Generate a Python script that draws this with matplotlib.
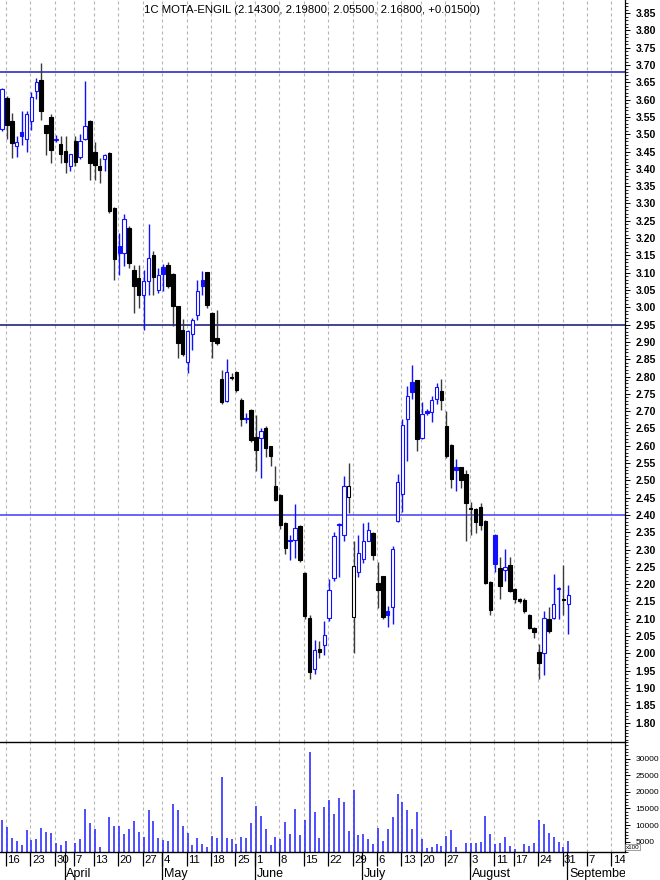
import matplotlib
matplotlib.use('Agg')
import matplotlib.pyplot as plt
from matplotlib.ticker import FixedLocator, MultipleLocator, FormatStrFormatter
import numpy as np
import pandas as pd

plt.rcParams['font.family'] = ['Liberation Sans', 'DejaVu Sans']

title = '1C MOTA-ENGIL (2.14300, 2.19800, 2.05500, 2.16800, +0.01500)'

# trading days (exchange holidays and days missing from the feed removed)
holidays = ['2015-04-03', '2015-04-06', '2015-05-01']
missing = ['2015-05-28', '2015-07-16', '2015-08-10']
dates = pd.bdate_range('2015-03-13', '2015-09-01').drop(pd.to_datetime(holidays + missing))

opens = [3.515, 3.606, 3.537, 3.467, 3.506, 3.487, 3.539, 3.624, 3.657, 3.527,
         3.551, 3.484, 3.473, 3.453, 3.409, 3.481, 3.434, 3.486, 3.539, 3.449,
         3.407, 3.428, 3.447, 3.287, 3.176, 3.157, 3.229, 3.109, 3.085, 3.037,
         3.075, 3.152, 3.049, 3.117, 3.123, 3.096, 3.003, 2.935, 2.842, 2.924,
         2.979, 3.078, 3.101, 2.984, 2.911, 2.793, 2.728, 2.800, 2.812, 2.733,
         2.680, 2.704, 2.626, 2.623, 2.651, 2.598, 2.485, 2.459, 2.378, 2.328,
         2.329, 2.368, 2.231, 2.102, 1.954, 2.013, 2.023, 2.102, 2.218, 2.374,
         2.343, 2.453, 2.106, 2.235, 2.273, 2.326, 2.347, 2.203, 2.223, 2.122,
         2.135, 2.382, 2.461, 2.676, 2.783, 2.789, 2.622, 2.701, 2.697, 2.735,
         2.757, 2.656, 2.603, 2.539, 2.539, 2.519, 2.420, 2.418, 2.424, 2.384,
         2.206, 2.343, 2.247, 2.241, 2.254, 2.187, 2.156, 2.154, 2.112, 2.074,
         2.004, 2.002, 2.098, 2.103, 2.185, 2.158, 2.143]
highs = [3.635, 3.610, 3.561, 3.496, 3.566, 3.566, 3.621, 3.662, 3.707, 3.527,
         3.559, 3.497, 3.496, 3.494, 3.443, 3.496, 3.502, 3.654, 3.542, 3.478,
         3.431, 3.443, 3.450, 3.290, 3.215, 3.270, 3.235, 3.123, 3.123, 3.109,
         3.242, 3.162, 3.115, 3.126, 3.130, 3.100, 3.005, 2.966, 2.935, 2.969,
         3.080, 3.104, 3.103, 2.986, 2.993, 2.820, 2.851, 2.810, 2.815, 2.738,
         2.695, 2.706, 2.690, 2.651, 2.657, 2.600, 2.542, 2.460, 2.380, 2.343,
         2.433, 2.370, 2.235, 2.110, 2.040, 2.035, 2.095, 2.216, 2.351, 2.376,
         2.514, 2.550, 2.324, 2.343, 2.378, 2.380, 2.350, 2.263, 2.225, 2.137,
         2.310, 2.517, 2.676, 2.772, 2.834, 2.790, 2.726, 2.705, 2.744, 2.780,
         2.793, 2.699, 2.605, 2.562, 2.540, 2.530, 2.437, 2.420, 2.436, 2.386,
         2.210, 2.345, 2.279, 2.303, 2.280, 2.190, 2.160, 2.160, 2.115, 2.076,
         2.026, 2.122, 2.133, 2.228, 2.193, 2.254, 2.198]
lows = [3.510, 3.487, 3.431, 3.434, 3.470, 3.450, 3.511, 3.602, 3.542, 3.441,
        3.417, 3.478, 3.417, 3.388, 3.395, 3.407, 3.428, 3.484, 3.369, 3.369,
        3.359, 3.393, 3.272, 3.080, 3.094, 3.118, 3.114, 2.985, 2.998, 2.935,
        3.037, 3.037, 3.042, 3.046, 3.055, 2.945, 2.854, 2.860, 2.810, 2.878,
        2.964, 3.037, 2.998, 2.854, 2.890, 2.720, 2.725, 2.790, 2.755, 2.656,
        2.666, 2.610, 2.526, 2.507, 2.568, 2.542, 2.440, 2.360, 2.286, 2.271,
        2.276, 2.265, 2.100, 1.925, 1.940, 1.987, 1.994, 2.095, 2.210, 2.220,
        2.326, 2.405, 2.002, 2.221, 2.260, 2.326, 2.271, 2.132, 2.100, 2.077,
        2.086, 2.379, 2.410, 2.555, 2.735, 2.586, 2.620, 2.690, 2.669, 2.720,
        2.704, 2.565, 2.478, 2.468, 2.478, 2.326, 2.343, 2.347, 2.358, 2.200,
        2.110, 2.235, 2.156, 2.208, 2.178, 2.147, 2.145, 2.118, 2.070, 2.045,
        1.925, 1.939, 2.060, 2.100, 2.100, 2.112, 2.055]
closes = [3.630, 3.527, 3.475, 3.477, 3.494, 3.558, 3.609, 3.651, 3.566, 3.505,
          3.455, 3.486, 3.444, 3.419, 3.443, 3.421, 3.481, 3.525, 3.417, 3.412,
          3.397, 3.441, 3.277, 3.140, 3.157, 3.256, 3.128, 3.061, 3.037, 3.075,
          3.142, 3.089, 3.094, 3.097, 3.061, 3.003, 2.897, 2.866, 2.932, 2.964,
          3.048, 3.063, 3.008, 2.904, 2.897, 2.727, 2.812, 2.796, 2.760, 2.676,
          2.677, 2.616, 2.589, 2.644, 2.594, 2.570, 2.442, 2.372, 2.305, 2.326,
          2.363, 2.271, 2.109, 1.945, 2.011, 2.004, 2.054, 2.183, 2.338, 2.370,
          2.485, 2.483, 2.253, 2.289, 2.324, 2.357, 2.284, 2.183, 2.106, 2.110,
          2.303, 2.495, 2.661, 2.743, 2.754, 2.619, 2.692, 2.695, 2.731, 2.770,
          2.733, 2.570, 2.503, 2.529, 2.502, 2.434, 2.416, 2.379, 2.372, 2.203,
          2.125, 2.259, 2.196, 2.250, 2.180, 2.156, 2.150, 2.122, 2.074, 2.061,
          1.971, 2.103, 2.064, 2.144, 2.190, 2.153, 2.168]
volumes = [11600, 9400, 6060, 5240, 4030, 8580, 5550, 5940, 9080, 7970,
           7760, 4540, 4030, 5240, 1500, 4540, 5850, 14940, 10600, 8790,
           3330, 1500, 12300, 9880, 9790, 7270, 8790, 11100, 7880, 6360,
           14430, 11100, 6060, 5550, 5240, 16450, 14430, 9590, 7570, 4030,
           6060, 4330, 3330, 6770, 6060, 24430, 6060, 5850, 4230, 6360,
           6060, 10600, 15850, 12820, 8790, 4030, 6360, 5850, 10790, 7370,
           14840, 7060, 11600, 32100, 13820, 6060, 15340, 17670, 13210, 18060,
           16950, 8270, 20700, 7170, 7370, 5750, 4330, 9080, 5240, 8790,
           12400, 19480, 16950, 14430, 8790, 13820, 5850, 3030, 3330, 4230,
           3730, 6770, 8580, 3330, 1500, 4540, 4540, 4540, 5040, 12820,
           7270, 4230, 4740, 6360, 3830, 2820, 1500, 4230, 3730, 4740,
           11600, 10290, 7760, 6560, 5040, 3330, 5240]

hlines = [3.68, 2.95, 2.40]
hline_colors = ['#1c1cb8', '#10107a', '#3c3cf0']

BLUE = '#1010ff'
BLACK = '#000000'

o = np.array(opens)
h = np.array(highs)
l = np.array(lows)
c = np.array(closes)
x = np.arange(len(dates))

prev = np.r_[-np.inf, c[:-1]]
up = c >= prev
hollow = c > o
edge = np.where(up, BLUE, BLACK)
wick = np.where(up, BLUE, '#3a3a3a')
face = np.where(hollow, 'white', edge)

# weekly ticks / month starts, axis runs a bit into the future
future = pd.bdate_range('2015-09-02', '2015-09-18')
axis_days = dates.append(future)
wk = axis_days.isocalendar().week.values
week_pos = [i for i in range(1, len(axis_days)) if wk[i] != wk[i - 1]]
month_pos = [i for i in range(1, len(axis_days)) if axis_days[i].month != axis_days[i - 1].month]
xlim = (-0.43, 127.6)
week_pos = [p for p in week_pos if p < xlim[1]]
month_pos = [p for p in month_pos if p < xlim[1]]
grid_x = [p - 0.2 for p in week_pos]

fig = plt.figure(figsize=(6.6, 8.8), dpi=100)
W = 625 / 660
axv = fig.add_axes([0, 28.3 / 880, W, 109.7 / 880])
ax = fig.add_axes([0, 138 / 880, W, 742 / 880])
axd = fig.add_axes([0, 0, W, 28.3 / 880])
ax.patch.set_alpha(0)

# price panel
for g in grid_x:
    ax.axvline(g, color='#b4b4b4', lw=0.8, ls=(0, (2.7, 2.7)), zorder=0)
for lv, lc in zip(hlines, hline_colors):
    ax.axhline(lv, color=lc, lw=1.1, zorder=1)
ax.vlines(x, l, h, colors=wick, lw=1.0, zorder=2)
ax.bar(x, np.maximum(np.abs(c - o), 0.003), bottom=np.minimum(o, c), width=0.7,
       color=face, edgecolor=edge, linewidth=0.8, zorder=3)
ax.set_xlim(*xlim)
ax.set_ylim(1.744, 3.888)
ax.text(0.5, 1 - 10 / 742, title, transform=ax.transAxes, ha='center', va='center',
        fontsize=8.2)

for a in (ax, axv):
    a.spines['left'].set_visible(False)
    a.spines['top'].set_visible(False)
    a.spines['right'].set_linewidth(0.9)
    a.spines['bottom'].set_linewidth(1.0)
    a.spines['bottom'].set_color(BLACK)
    a.set_xticks([])
    a.yaxis.tick_right()
    a.tick_params(axis='y', which='major', direction='out', length=3.6, width=0.7, pad=4)
    a.tick_params(axis='y', which='minor', direction='out', length=1.8, width=0.6)

ax.yaxis.set_major_locator(FixedLocator(np.round(np.arange(1.80, 3.851, 0.05), 2)))
ax.yaxis.set_minor_locator(MultipleLocator(0.01))
ax.yaxis.set_major_formatter(FormatStrFormatter('%.2f'))
for t in ax.get_yticklabels():
    t.set_fontsize(7.5)
    t.set_fontweight('bold')

# volume panel
for g in grid_x:
    axv.axvline(g, color='#b4b4b4', lw=0.8, ls=(0, (2.7, 2.7)), zorder=0)
axv.vlines(x, 0, volumes, colors='#3030ff', lw=1.2, zorder=2)
axv.set_xlim(*xlim)
axv.set_ylim(2000, 35000)
axv.yaxis.set_major_locator(FixedLocator(np.arange(5000, 30001, 5000)))
axv.yaxis.set_minor_locator(MultipleLocator(1000))
axv.yaxis.set_major_formatter(FormatStrFormatter('%d'))
for t in axv.get_yticklabels():
    t.set_fontsize(6)
fig.text(626 / 660, 1 - 847 / 880, 'x100', fontsize=4.5, ha='left', va='center',
         bbox=dict(boxstyle='square,pad=0.1', fc='white', ec='#555555', lw=0.4))

# date axis
axd.set_xlim(*xlim)
axd.set_ylim(0, 1)
axd.axis('off')
for p in week_pos:
    axd.vlines(p - 0.2, 0.48, 1, colors=BLACK, lw=0.9)
    axd.text(p - 0.2 + 0.3, 0.71, str(axis_days[p].day), fontsize=8.2,
             ha='left', va='center', clip_on=True)
for p in month_pos:
    axd.vlines(p - 0.2, 0, 1, colors=BLACK, lw=0.9)
    axd.text(p - 0.2 + 0.35, 0.2, axis_days[p].strftime('%B'), fontsize=9,
             ha='left', va='center', clip_on=True)

fig.savefig('out.png', dpi=100)
